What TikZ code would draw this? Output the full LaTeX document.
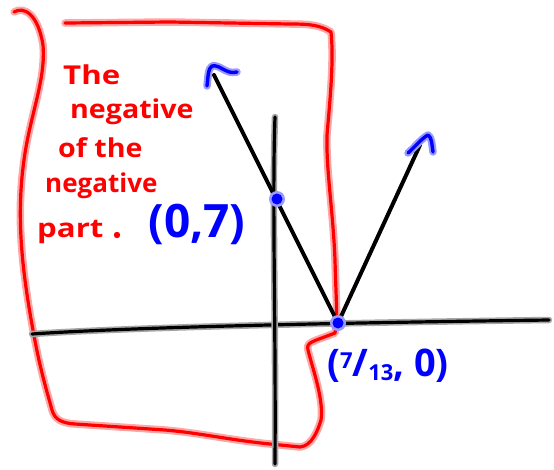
\documentclass[tikz,border=0pt]{standalone}
\usepackage{fontspec}
\setmainfont{Open Sans}
\begin{document}
\begin{tikzpicture}[x=1pt,y=-1pt,line cap=round,line join=round,
  halo/.style={line width=7.5pt},
  redhalo/.style={halo,draw=red!35},
  redcore/.style={line width=3.2pt,draw=red},
  bluehalo/.style={halo,draw=blue!40},
  bluecore/.style={line width=3.4pt,draw=blue},
  axishalo/.style={line width=6.5pt,draw=black!35},
  axiscore/.style={line width=3.2pt,draw=black},
  vline/.style={line width=4pt,draw=black},
  redtxt/.style={text=red,font=\bfseries\fontsize{26}{30}\selectfont,anchor=base west,inner sep=0pt},
  bluetxt/.style={text=blue,inner sep=0pt}]
\useasboundingbox (0,0) rectangle (554,469);
% coordinates
\coordinate (xl) at (32,334);
\coordinate (xr) at (549,320);
\coordinate (yt) at (275,117);
\coordinate (yb) at (275,464);
\coordinate (v) at (338,323);
\coordinate (la) at (214,75);
\coordinate (ra) at (420,145);
% red border
\def\bracketpath{(14,12) .. controls (24,6) and (38,14) .. (43,45) .. controls (46,80) and (30,115) .. (24,160) .. controls (17,210) and (20,260) .. (33,330) .. controls (40,370) and (48,395) .. (52,410) .. controls (55,420) and (62,423) .. (75,424) -- (165,430) .. controls (200,433) and (230,440) .. (270,444) -- (300,447) .. controls (312,446) and (318,430) .. (321,420) .. controls (324,400) and (313,370) .. (308,350) .. controls (306,342) and (312,342) .. (335,333) .. controls (338,320) and (336,300) .. (335,260) .. controls (333,210) and (326,170) .. (327,135) .. controls (330,100) and (334,60) .. (331,32) .. controls (320,25) and (310,24) .. (290,24) -- (170,22) -- (65,23)}
\draw[redhalo] \bracketpath;
\draw[redcore] \bracketpath;
% axes
\draw[axishalo] (xl) .. controls (150,326) and (400,322) .. (xr);
\draw[axiscore] (xl) .. controls (150,326) and (400,322) .. (xr);
\draw[axishalo] (yt) .. controls (272,200) and (276,330) .. (yb);
\draw[axiscore] (yt) .. controls (272,200) and (276,330) .. (yb);
% V
\draw[vline] (la) -- (v) -- (ra);
% blue arrow heads
\def\lhead{(207,86) .. controls (208,78) and (208,68) .. (212,66) .. controls (220,64) and (226,75) .. (237,72)}
\def\rhead{(408,153) .. controls (414,148) and (422,138) .. (428,135) .. controls (432,137) and (432,146) .. (433,152)}
\draw[bluehalo] \lhead; \draw[bluecore] \lhead;
\draw[bluehalo] \rhead; \draw[bluecore] \rhead;
% blue dots
\fill[blue!40] (277,199) circle (8pt);
\fill[blue] (277,199) circle (5.5pt);
\node[circle,inner sep=0pt,minimum size=11pt] (p07) at (277,199) {};
\fill[blue!40] (338,323) circle (8pt);
\fill[blue] (338,323) circle (5.5pt);
\node[circle,inner sep=0pt,minimum size=11pt] (p70) at (338,323) {};
% red text
\node[redtxt] (t1) at (63,84) {\scalebox{1.2}[1]{The}};
\node[redtxt] (t2) at (70,118) {\scalebox{1.1}[1]{negative}};
\node[redtxt] (t3) at (58,157) {\scalebox{1.1}[1]{of the}};
\node[redtxt] (t4) at (45,192) {negative};
\node[redtxt] (t5) at (37,237) {\scalebox{1.2}[1]{part}};
\fill[red] (117,235) circle (3.2pt);
% blue labels
\node[bluetxt,font=\bfseries\fontsize{46}{50}\selectfont] (l07) at (197,224) {(0,7)};
\node[bluetxt,font=\bfseries\fontsize{38}{42}\selectfont] (l713) at (388,366) {(\raisebox{8pt}{\fontsize{22}{24}\selectfont 7}/\raisebox{-4pt}{\fontsize{22}{24}\selectfont 13}, 0)};
\end{tikzpicture}
\end{document}
